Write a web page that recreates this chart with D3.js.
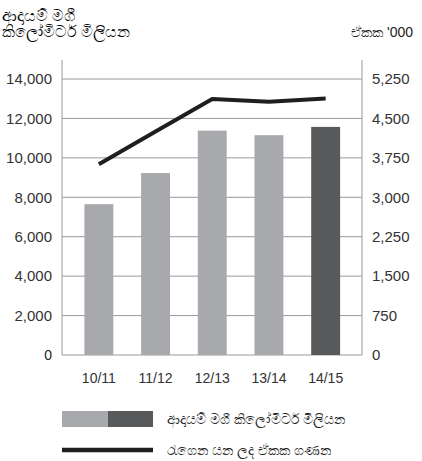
<!DOCTYPE html>
<html>
<head>
<meta charset="utf-8">
<script src="https://cdn.jsdelivr.net/npm/d3@7"></script>
<style>
  body { margin: 0; background: #fff; }
  svg { display: block; font-family: "Liberation Sans", Arial, "Noto Sans", sans-serif; }
</style>
</head>
<body>
<div id="chart"></div>
<script>
// chart data
const years = ['10/11', '11/12', '12/13', '13/14', '14/15'];
const passengerKm = [7650, 9230, 11380, 11150, 11570];   // left axis, bars
const passengers = [3630, 4250, 4870, 4815, 4880];       // right axis, line
const leftTicks = [0, 2000, 4000, 6000, 8000, 10000, 12000, 14000];
const rightTicks = [0, 750, 1500, 2250, 3000, 3750, 4500, 5250];

const titleLines = ['ආදායම් මගී', 'කිලෝමීටර් මිලියන'];
const unitLabel = "ඒකක '000";
const legendBars = 'ආදායම් මගී කිලෝමීටර් මිලියන';
const legendLine = 'රැගෙන යන ලද ඒකක ගණන';

let width = 422,
    height = 461,
    plot = { left: 62, right: 362, top: 79, bottom: 355 };

let svg = d3.select('#chart')
    .append('svg')
    .attr('width', width)
    .attr('height', height);

let x = d3.scaleBand()
    .domain(years)
    .range([70.5, 354])
    .paddingInner(0.49)
    .paddingOuter(0.245);

let yLeft = d3.scaleLinear().domain([0, 14000]).range([plot.bottom, plot.top]);
let yRight = d3.scaleLinear().domain([0, 5250]).range([plot.bottom, plot.top]);

// gridlines
svg.append('g')
    .selectAll('line')
    .data(leftTicks)
    .enter().append('line')
    .attr('x1', plot.left).attr('x2', plot.right)
    .attr('y1', d => yLeft(d)).attr('y2', d => yLeft(d))
    .attr('stroke', '#9a9a9a')
    .attr('stroke-width', 1);

// vertical axis lines
[plot.left, plot.right].forEach(px => {
  svg.append('line')
      .attr('x1', px).attr('x2', px)
      .attr('y1', 60).attr('y2', plot.bottom)
      .attr('stroke', '#9a9a9a')
      .attr('stroke-width', 1);
});

// left axis labels
let fmt = d3.format(',');
let leftAxis = svg.append('g')
    .attr('transform', 'translate(' + (plot.left - 10) + ',0)')
    .call(d3.axisLeft(yLeft).tickValues(leftTicks).tickFormat(fmt).tickSize(0).tickPadding(0));
leftAxis.select('.domain').remove();
leftAxis.selectAll('text')
    .attr('fill', '#333')
    .style('font-size', '15px')
    .style('font-family', '"Liberation Sans", Arial, sans-serif');

let rightAxis = svg.append('g')
    .attr('transform', 'translate(' + (plot.right + 10) + ',0)')
    .call(d3.axisRight(yRight).tickValues(rightTicks).tickFormat(fmt).tickSize(0).tickPadding(0));
rightAxis.select('.domain').remove();
rightAxis.selectAll('text')
    .attr('fill', '#333')
    .style('font-size', '15px')
    .style('font-family', '"Liberation Sans", Arial, sans-serif');

// x labels
let xAxis = svg.append('g')
    .attr('transform', 'translate(0,' + (plot.bottom + 18) + ')')
    .call(d3.axisBottom(x).tickSize(0).tickPadding(0));
xAxis.select('.domain').remove();
xAxis.selectAll('text')
    .attr('fill', '#333')
    .style('font-size', '14px')
    .style('font-family', '"Liberation Sans", Arial, sans-serif');

// bars
svg.append('g')
    .selectAll('rect')
    .data(passengerKm)
    .enter().append('rect')
    .attr('x', (d, i) => x(years[i]))
    .attr('y', d => yLeft(d))
    .attr('width', x.bandwidth())
    .attr('height', d => plot.bottom - yLeft(d))
    .attr('fill', (d, i) => i === years.length - 1 ? '#58595b' : '#a7a9ac');

// line
let line = d3.line()
    .x((d, i) => x(years[i]) + x.bandwidth() / 2)
    .y(d => yRight(d));

svg.append('path')
    .datum(passengers)
    .attr('d', line)
    .attr('fill', 'none')
    .attr('stroke', '#1f1f1f')
    .attr('stroke-width', 4)
    .attr('stroke-linejoin', 'round');

// titles
svg.append('text')
    .selectAll('tspan')
    .data(titleLines)
    .enter().append('tspan')
    .attr('x', 2)
    .attr('y', (d, i) => 21 + i * 16)
    .text(d => d);
svg.select('text')
    .attr('fill', '#222')
    .style('font-size', '14px');

svg.append('text')
    .attr('x', 413)
    .attr('y', 37)
    .attr('text-anchor', 'end')
    .attr('fill', '#222')
    .style('font-size', '14px')
    .text(unitLabel);

// legend
let legend = svg.append('g');
legend.append('rect')
    .attr('x', 62).attr('y', 411).attr('width', 46).attr('height', 16)
    .attr('fill', '#a7a9ac');
legend.append('rect')
    .attr('x', 108).attr('y', 411).attr('width', 45).attr('height', 16)
    .attr('fill', '#58595b');
legend.append('text')
    .attr('x', 167).attr('y', 419)
    .attr('dy', '0.35em')
    .attr('fill', '#222')
    .style('font-size', '14px')
    .text(legendBars);

legend.append('line')
    .attr('x1', 62).attr('x2', 153)
    .attr('y1', 450).attr('y2', 450)
    .attr('stroke', '#1f1f1f')
    .attr('stroke-width', 4.5);
legend.append('text')
    .attr('x', 167).attr('y', 450)
    .attr('dy', '0.35em')
    .attr('fill', '#222')
    .style('font-size', '14px')
    .text(legendLine);
</script>
</body>
</html>
